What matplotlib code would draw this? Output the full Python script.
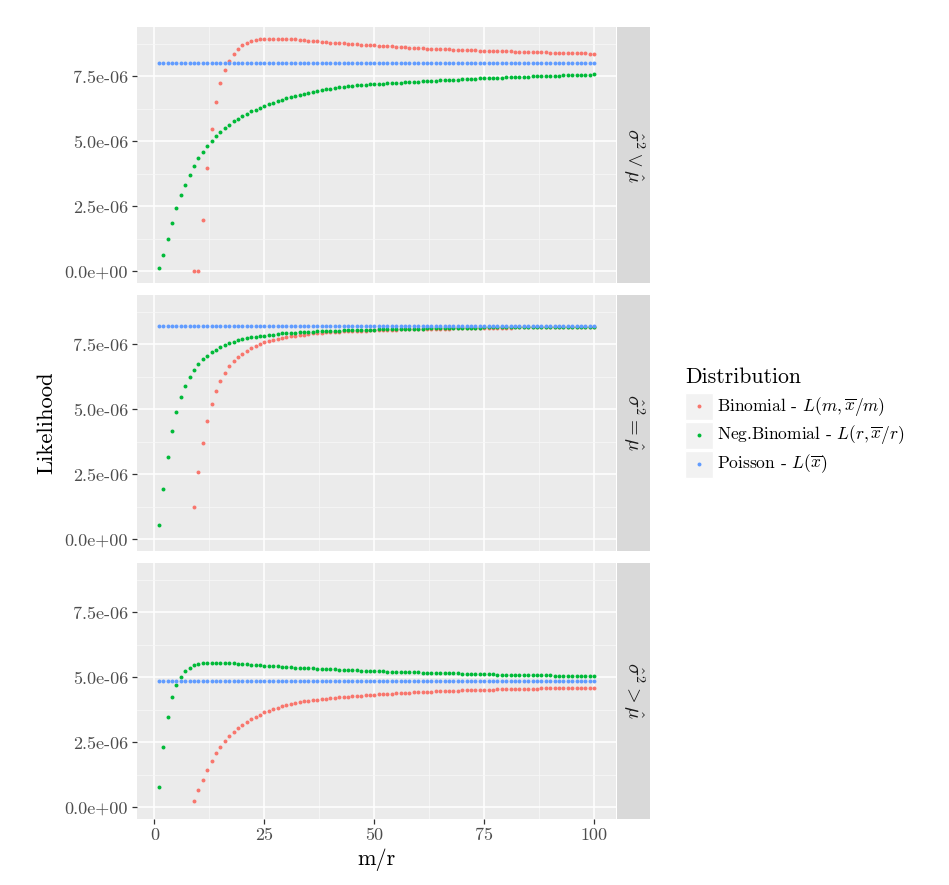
#!/usr/bin/env python3
"""Likelihood of three count distributions against m/r, faceted by dispersion."""

import numpy as np
import matplotlib.pyplot as plt
from matplotlib.patches import Rectangle

plt.rcParams["font.family"] = "cmr10"
plt.rcParams["mathtext.fontset"] = "cm"
plt.rcParams["axes.unicode_minus"] = False

W, H = 949, 885

# m (binomial) or r (negative binomial)
M_R = list(range(1, 101))
BINOM_START = 9  # binomial needs m >= max(x)

# values in units of 1e-6
# panel 1: sigma^2 < mu
BINOM_1 = [
    0.00, 0.00, 1.99, 3.99, 5.47, 6.52, 7.24, 7.76, 8.10, 8.37, 8.56, 8.69,
    8.78, 8.85, 8.90, 8.93, 8.94, 8.95, 8.95, 8.95, 8.94, 8.94,
    8.93, 8.92, 8.90, 8.89, 8.88, 8.87, 8.85, 8.83, 8.81, 8.80,
    8.79, 8.78, 8.77, 8.76, 8.75, 8.74, 8.72, 8.71, 8.70, 8.69,
    8.68, 8.67, 8.66, 8.65, 8.64, 8.63, 8.62, 8.61, 8.60, 8.59,
    8.58, 8.57, 8.565, 8.56, 8.55, 8.545, 8.54, 8.53, 8.525, 8.52,
    8.51, 8.505, 8.50, 8.495, 8.49, 8.485, 8.48, 8.475, 8.47, 8.465,
    8.46, 8.455, 8.45, 8.445, 8.44, 8.435, 8.43, 8.425, 8.42, 8.415,
    8.41, 8.405, 8.40, 8.40, 8.395, 8.39, 8.39, 8.385, 8.38, 8.38,
]
NEGBIN_1 = [
    0.14, 0.64, 1.25, 1.86, 2.42, 2.92, 3.34, 3.72, 4.06, 4.35,
    4.60, 4.82, 5.03, 5.20, 5.36, 5.50, 5.64, 5.77, 5.87, 5.97,
    6.06, 6.15, 6.22, 6.30, 6.36, 6.43, 6.49, 6.54, 6.59, 6.65,
    6.70, 6.73, 6.77, 6.82, 6.86, 6.90, 6.93, 6.96, 7.00, 7.03,
    7.05, 7.08, 7.10, 7.12, 7.14, 7.15, 7.17, 7.18, 7.19, 7.20,
    7.21, 7.22, 7.23, 7.24, 7.25, 7.26, 7.27, 7.28, 7.29, 7.30,
    7.31, 7.32, 7.33, 7.34, 7.345, 7.35, 7.36, 7.37, 7.38, 7.39,
    7.40, 7.405, 7.41, 7.42, 7.43, 7.435, 7.44, 7.45, 7.455, 7.46,
    7.47, 7.475, 7.48, 7.485, 7.49, 7.50, 7.505, 7.51, 7.515, 7.52,
    7.525, 7.53, 7.535, 7.54, 7.545, 7.55, 7.555, 7.56, 7.57, 7.58,
]
POISSON_1 = 8.00

# panel 2: sigma^2 = mu
BINOM_2 = [
    1.24, 2.60, 3.71, 4.57, 5.20, 5.70, 6.10, 6.40, 6.65, 6.85, 7.02, 7.14,
    7.26, 7.35, 7.44, 7.51, 7.58, 7.63, 7.68, 7.72, 7.76, 7.79,
    7.82, 7.84, 7.86, 7.88, 7.90, 7.92, 7.93, 7.95, 7.96, 7.97,
    7.98, 7.99, 8.00, 8.01, 8.01, 8.02, 8.03, 8.03, 8.04, 8.05,
    8.05, 8.06, 8.06, 8.07, 8.07, 8.08, 8.08, 8.09, 8.09, 8.09,
    8.10, 8.10, 8.10, 8.11, 8.11, 8.11, 8.11, 8.12, 8.12, 8.12,
    8.12, 8.13, 8.13, 8.13, 8.13, 8.13, 8.14, 8.14, 8.14, 8.14,
    8.14, 8.15, 8.15, 8.15, 8.15, 8.15, 8.15, 8.16, 8.16, 8.16,
    8.16, 8.16, 8.16, 8.16, 8.17, 8.17, 8.17, 8.17, 8.17, 8.17,
]
NEGBIN_2 = [
    0.57, 1.93, 3.16, 4.15, 4.90, 5.46, 5.89, 6.24, 6.52, 6.75,
    6.93, 7.07, 7.19, 7.30, 7.39, 7.46, 7.54, 7.60, 7.65, 7.69,
    7.73, 7.77, 7.79, 7.82, 7.84, 7.87, 7.88, 7.91, 7.92, 7.93,
    7.94, 7.95, 7.96, 7.97, 7.98, 7.99, 8.00, 8.00, 8.01, 8.02,
    8.02, 8.03, 8.04, 8.04, 8.05, 8.05, 8.06, 8.06, 8.07, 8.07,
    8.08, 8.08, 8.08, 8.09, 8.09, 8.10, 8.10, 8.10, 8.11, 8.11,
    8.11, 8.12, 8.12, 8.12, 8.12, 8.13, 8.13, 8.13, 8.13, 8.14,
    8.14, 8.14, 8.14, 8.14, 8.15, 8.15, 8.15, 8.15, 8.15, 8.15,
    8.16, 8.16, 8.16, 8.16, 8.16, 8.16, 8.16, 8.17, 8.17, 8.17,
    8.17, 8.17, 8.17, 8.17, 8.17, 8.18, 8.18, 8.18, 8.18, 8.18,
]
POISSON_2 = 8.19

# panel 3: sigma^2 > mu
BINOM_3 = [
    0.24, 0.65, 1.06, 1.44, 1.79, 2.08, 2.33, 2.54, 2.73, 2.90, 3.05, 3.18,
    3.29, 3.39, 3.48, 3.57, 3.65, 3.71, 3.78, 3.84, 3.89, 3.94,
    3.99, 4.02, 4.05, 4.08, 4.10, 4.12, 4.14, 4.16, 4.18, 4.20,
    4.21, 4.23, 4.24, 4.26, 4.27, 4.28, 4.30, 4.31, 4.32, 4.33,
    4.35, 4.36, 4.37, 4.37, 4.38, 4.39, 4.40, 4.41, 4.42, 4.43,
    4.44, 4.45, 4.45, 4.46, 4.47, 4.47, 4.48, 4.48, 4.49, 4.50,
    4.50, 4.51, 4.51, 4.52, 4.52, 4.53, 4.53, 4.54, 4.54, 4.55,
    4.55, 4.55, 4.56, 4.56, 4.57, 4.57, 4.57, 4.58, 4.58, 4.58,
    4.59, 4.59, 4.59, 4.60, 4.60, 4.60, 4.60, 4.61, 4.61, 4.61,
]
NEGBIN_3 = [
    0.80, 2.33, 3.48, 4.23, 4.72, 5.03, 5.23, 5.37, 5.47, 5.52,
    5.55, 5.56, 5.56, 5.56, 5.56, 5.55, 5.55, 5.54, 5.52, 5.51,
    5.50, 5.48, 5.47, 5.46, 5.45, 5.44, 5.43, 5.42, 5.41, 5.40,
    5.39, 5.38, 5.37, 5.36, 5.35, 5.35, 5.34, 5.33, 5.32, 5.32,
    5.31, 5.30, 5.29, 5.29, 5.28, 5.27, 5.26, 5.26, 5.25, 5.24,
    5.23, 5.23, 5.22, 5.22, 5.21, 5.21, 5.20, 5.20, 5.19, 5.19,
    5.18, 5.18, 5.17, 5.17, 5.16, 5.16, 5.16, 5.15, 5.15, 5.14,
    5.14, 5.14, 5.13, 5.13, 5.12, 5.12, 5.12, 5.11, 5.11, 5.11,
    5.10, 5.10, 5.10, 5.09, 5.09, 5.09, 5.08, 5.08, 5.08, 5.08,
    5.07, 5.07, 5.07, 5.07, 5.06, 5.06, 5.06, 5.06, 5.06, 5.05,
]
POISSON_3 = 4.87

PANEL_LABELS = [
    r"$\hat{\sigma}^2 \vee \hat{\mu}$",
    r"$\hat{\sigma}^2 = \hat{\mu}$",
    r"$\hat{\sigma}^2 > \hat{\mu}$",
]
SERIES_LABELS = [
    r"Binomial - $L(m,\overline{x}/m)$",
    r"Neg.Binomial - $L(r,\overline{x}/r)$",
    r"Poisson - $L(\overline{x})$",
]
Y_TICKS = [0.0, 2.5e-6, 5.0e-6, 7.5e-6]
Y_TICK_LABELS = ["0.0e+00", "2.5e-06", "5.0e-06", "7.5e-06"]
X_TICKS = [0, 25, 50, 75, 100]

COLORS = ["#F8766D", "#00BA38", "#619CFF"]
PANEL_BG = "#EBEBEB"
STRIP_BG = "#D9D9D9"
TEXT_GREY = "#4D4D4D"


def px_box(x0, y0, x1, y1):
    """pixel box (top-left origin) -> figure fraction rect"""
    return [x0 / W, 1 - y1 / H, (x1 - x0) / W, (y1 - y0) / H]


def main():
    fig = plt.figure(figsize=(W / 100, H / 100), dpi=100)

    panels = [
        (BINOM_1, NEGBIN_1, POISSON_1),
        (BINOM_2, NEGBIN_2, POISSON_2),
        (BINOM_3, NEGBIN_3, POISSON_3),
    ]
    tops = [27, 295, 563]
    x = np.array(M_R)

    for i, (binom, negbin, pois) in enumerate(panels):
        top = tops[i]
        bot = top + 256
        ax = fig.add_axes(px_box(137, top, 616, bot))
        ax.set_facecolor(PANEL_BG)

        binom_y = np.full(len(x), np.nan)
        binom_y[BINOM_START - 1:] = np.array(binom) * 1e-6
        series = [binom_y, np.array(negbin) * 1e-6, np.full(len(x), pois * 1e-6)]
        for ys, color in zip(series, COLORS):
            ax.scatter(x, ys, s=8, color=color, linewidths=0, zorder=3)

        ax.set_xlim(-3.95, 104.95)
        ax.set_ylim(-0.448e-6, 9.4e-6)
        ax.set_xticks(X_TICKS)
        ax.set_xticks([12.5, 37.5, 62.5, 87.5], minor=True)
        ax.set_yticks(Y_TICKS)
        ax.set_yticks([1.25e-6, 3.75e-6, 6.25e-6, 8.75e-6], minor=True)
        ax.set_yticklabels(Y_TICK_LABELS)
        ax.grid(which="major", color="white", linewidth=1.1)
        ax.grid(which="minor", color="#F7F7F7", linewidth=0.55)
        ax.set_axisbelow(True)
        for sp in ax.spines.values():
            sp.set_visible(False)
        ax.tick_params(axis="y", which="major", length=3.5, width=0.9,
                       color="#333333", labelsize=13, labelcolor=TEXT_GREY, pad=3)
        ax.tick_params(which="minor", length=0)
        if i < 2:
            ax.tick_params(axis="x", which="major", length=0, labelbottom=False)
        else:
            ax.tick_params(axis="x", which="major", length=3.5, width=0.9,
                           color="#333333", labelsize=13, labelcolor=TEXT_GREY, pad=3)

        strip = fig.add_axes(px_box(617, top, 650, bot))
        strip.set_facecolor(STRIP_BG)
        strip.set_xticks([])
        strip.set_yticks([])
        for sp in strip.spines.values():
            sp.set_visible(False)
        strip.text(0.5, 0.5, PANEL_LABELS[i], rotation=-90, ha="center", va="center",
                   fontsize=14.5, color="#1A1A1A", transform=strip.transAxes)

    fig.text(47 / W, 1 - 423 / H, "Likelihood", rotation=90, ha="center", va="center",
             fontsize=16.3)
    fig.text(376 / W, 1 - 860 / H, "m/r", ha="center", va="center", fontsize=16)

    # legend
    leg = fig.add_axes([0, 0, 1, 1], facecolor="none")
    leg.set_xlim(0, W)
    leg.set_ylim(H, 0)
    leg.axis("off")
    leg.text(685, 377, "Distribution", ha="left", va="center", fontsize=15.7)
    for k, (label, color) in enumerate(zip(SERIES_LABELS, COLORS)):
        yc = 406 + k * 29
        leg.add_patch(Rectangle((685, yc - 13.5), 28, 27, facecolor="#F2F2F2",
                                edgecolor="white", linewidth=1))
        leg.scatter([699], [yc], s=8, color=color, linewidths=0)
        leg.text(717, yc, label, ha="left", va="center", fontsize=12.5)

    fig.savefig("out.png", dpi=100)


if __name__ == "__main__":
    main()
